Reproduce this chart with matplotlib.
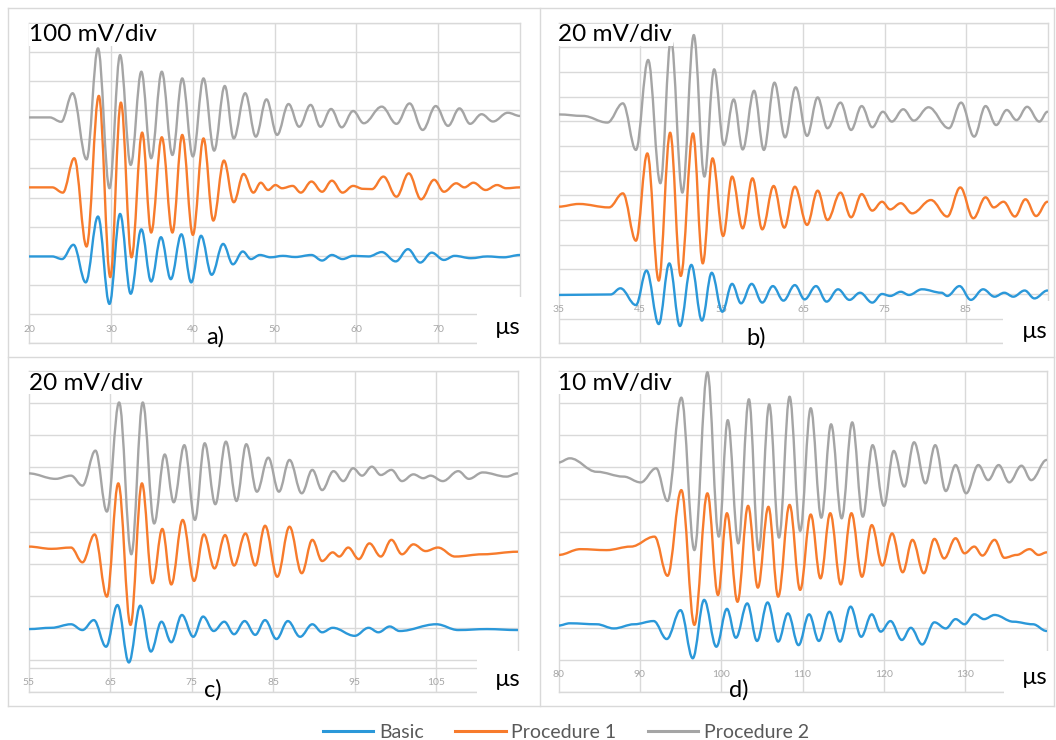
import matplotlib
matplotlib.use("Agg")
import matplotlib.pyplot as plt
from matplotlib.path import Path
from matplotlib.patches import PathPatch, Rectangle
from matplotlib.lines import Line2D

plt.rcParams['font.family'] = ['Lato', 'DejaVu Sans']

# ---------------- data (time in µs, amplitude in grid divisions) ----------------
SERIES = ["Basic", "Procedure 1", "Procedure 2"]
COLORS = ["#2b98d9", "#f77b2c", "#a5a5a5"]

SCALES = ["100 mV/div", "20 mV/div", "20 mV/div", "10 mV/div"]
PANEL_LABELS = ["a)", "b)", "c)", "d)"]

A_XTICKS = [20, 30, 40, 50, 60, 70]
B_XTICKS = [35, 45, 55, 65, 75, 85]
C_XTICKS = [55, 65, 75, 85, 95, 105]
D_XTICKS = [80, 90, 100, 110, 120, 130]

# panel a)
A_P2_T = [20.0, 22.5, 23.9, 25.3, 27.0, 28.4, 29.8, 31.1, 32.4, 33.7, 34.9, 36.2, 37.5, 38.7, 40.0, 41.3,
          42.6, 43.9, 45.0, 46.4, 47.7, 49.0, 50.3, 51.7, 53.0, 54.4, 55.6, 56.9, 58.2, 59.6, 60.9, 63.1,
          64.9, 66.5, 68.1, 69.7, 71.2, 72.6, 73.9, 75.3, 76.7, 78.5, 80.0]
A_P2_V = [7.75, 7.75, 7.6, 8.58, 6.31, 10.12, 5.32, 9.89, 6.12, 9.32, 6.35, 9.32, 6.46, 9.09, 6.41, 9.09,
          6.61, 8.83, 7.03, 8.58, 7.09, 8.37, 7.15, 8.21, 7.43, 8.18, 7.43, 8.04, 7.41, 7.97, 7.55, 8.12,
          7.53, 8.23, 7.32, 8.14, 7.46, 8.06, 7.53, 7.86, 7.61, 7.91, 7.8]
A_P1_T = [20.0, 22.8, 24.1, 25.5, 27.0, 28.5, 29.9, 31.2, 32.5, 33.8, 34.9, 36.2, 37.5, 38.7, 40.0, 41.3,
          42.5, 43.8, 45.0, 46.2, 47.4, 48.3, 49.2, 50.1, 50.9, 52.2, 53.2, 54.5, 55.8, 57.0, 58.3, 59.6,
          60.8, 61.9, 63.3, 64.9, 66.4, 67.9, 69.5, 70.7, 72.2, 73.2, 74.3, 75.8, 77.2, 78.3, 80.0]
A_P1_V = [5.35, 5.35, 5.17, 6.35, 3.32, 8.49, 2.27, 8.26, 2.95, 7.23, 3.8, 7.07, 3.8, 7.15, 3.72, 7.03,
          4.21, 6.27, 4.84, 5.81, 5.17, 5.51, 5.26, 5.43, 5.32, 5.4, 5.17, 5.55, 5.2, 5.58, 5.17, 5.4,
          5.3, 5.29, 5.72, 5.03, 5.83, 4.94, 5.61, 5.2, 5.49, 5.35, 5.51, 5.26, 5.43, 5.32, 5.35]
A_B_T = [20.0, 22.8, 24.0, 25.4, 26.9, 28.4, 29.8, 31.1, 32.4, 33.7, 34.9, 36.1, 37.3, 38.6, 39.8, 41.0,
         42.3, 43.7, 44.9, 46.1, 47.1, 48.2, 49.5, 51.0, 52.5, 54.5, 55.8, 57.0, 58.3, 59.6, 61.5, 63.1,
         64.8, 66.3, 67.8, 69.2, 70.7, 72.0, 74.0, 76.0, 78.0, 80.0]
A_B_V = [2.98, 2.98, 2.89, 3.38, 2.09, 4.35, 1.35, 4.44, 1.70, 3.91, 2.12, 3.64, 2.2, 3.74, 2.09, 3.69,
         2.35, 3.41, 2.71, 3.15, 2.89, 3.03, 2.95, 3.0, 2.96, 3.03, 2.84, 3.03, 2.89, 3.0, 2.98, 3.13,
         2.81, 3.23, 2.77, 3.11, 2.86, 3.0, 2.92, 2.98, 2.95, 3.03]

# panel b)
B_P2_T = [35.0, 38.0, 41.0, 42.9, 44.5, 46.0, 47.5, 48.8, 50.2, 51.6, 52.9, 54.1, 55.3, 56.5, 57.6, 59.0,
          60.2, 61.5, 62.8, 64.1, 65.5, 66.8, 68.0, 69.6, 70.9, 72.2, 73.5, 74.8, 75.9, 77.3, 78.6, 80.4,
          82.9, 84.4, 86.0, 87.4, 88.7, 90.0, 91.2, 92.5, 94.0, 95.0]
B_P2_V = [9.28, 9.22, 8.95, 9.73, 7.84, 11.49, 6.49, 12.32, 6.11, 12.5, 6.76, 11.11, 8.04, 9.89, 7.86, 10.24,
          7.84, 10.57, 8.35, 10.38, 8.41, 9.97, 8.72, 9.76, 8.65, 9.62, 8.76, 9.39, 8.99, 9.49, 9.03, 9.57,
          8.72, 9.76, 8.38, 9.62, 8.85, 9.46, 9.05, 9.59, 8.99, 9.39]
B_P1_T = [35.0, 37.5, 41.2, 42.9, 44.5, 45.9, 47.3, 48.7, 50.0, 51.5, 52.7, 53.9, 55.2, 56.3, 57.6, 58.8,
          60.0, 61.4, 62.7, 64.0, 65.5, 66.8, 68.0, 69.6, 70.9, 72.2, 73.5, 74.7, 75.7, 77.0, 78.4, 80.7,
          82.7, 84.3, 85.9, 87.4, 88.4, 89.6, 91.0, 92.3, 93.6, 95.0]
B_P1_V = [5.54, 5.65, 5.51, 6.08, 4.16, 7.70, 2.54, 8.54, 2.73, 8.51, 3.24, 7.5, 4.35, 6.76, 4.66, 6.69,
          4.62, 6.38, 4.69, 6.35, 4.8, 6.19, 5.0, 6.11, 5.11, 6.05, 5.38, 5.74, 5.43, 5.68, 5.27, 5.81,
          5.14, 6.32, 5.07, 5.92, 5.51, 5.74, 5.14, 5.84, 5.16, 5.74]
B_B_T = [35.0, 41.4, 42.6, 44.5, 45.8, 47.3, 48.6, 49.9, 51.3, 52.6, 53.8, 55.1, 56.3, 57.4, 58.7, 60.0,
         61.3, 62.6, 64.0, 65.2, 66.6, 67.9, 69.3, 70.7, 72.0, 73.5, 74.7, 75.7, 77.0, 78.0, 79.6, 82.0,
         82.7, 84.2, 85.6, 87.1, 88.5, 89.7, 90.8, 92.2, 93.4, 95.0]
B_B_V = [1.96, 1.98, 2.23, 1.55, 2.95, 0.78, 3.24, 0.70, 3.18, 0.92, 2.86, 1.28, 2.41, 1.62, 2.41, 1.65,
         2.32, 1.73, 2.36, 1.78, 2.32, 1.69, 2.19, 1.76, 2.05, 1.65, 2.0, 1.92, 2.09, 1.96, 2.19, 2.05,
         1.92, 2.32, 1.76, 2.19, 1.89, 2.05, 1.89, 2.14, 1.82, 2.14]

# panel c)
C_P2_T = [55.0, 58.3, 60.2, 61.6, 63.2, 64.6, 66.1, 67.6, 69.0, 70.4, 71.7, 72.8, 74.1, 75.4, 76.6, 77.9,
          79.2, 80.5, 81.7, 83.0, 84.4, 85.7, 87.0, 88.5, 89.8, 91.0, 92.4, 93.6, 94.8, 95.9, 97.1, 98.2,
          99.5, 100.8, 102.2, 103.4, 104.3, 105.8, 107.7, 109.0, 110.7, 113.6, 115.0]
C_P2_V = [6.81, 6.64, 6.74, 6.43, 7.52, 5.62, 9.02, 4.29, 9.02, 5.25, 7.40, 5.91, 7.69, 5.36, 7.75, 5.85,
          7.80, 5.95, 7.72, 6.24, 7.30, 6.24, 7.23, 6.19, 6.92, 6.29, 6.88, 6.57, 6.97, 6.74, 7.02, 6.76,
          6.92, 6.57, 6.78, 6.66, 6.74, 6.57, 6.88, 6.64, 6.84, 6.71, 6.81]
C_P1_T = [55.0, 57.8, 60.2, 61.6, 63.1, 64.6, 66.0, 67.5, 68.9, 70.2, 71.4, 72.5, 73.9, 75.3, 76.5, 77.8,
          79.1, 80.2, 81.6, 82.8, 84.0, 85.5, 87.0, 88.5, 89.8, 91.0, 92.3, 93.1, 94.2, 95.5, 96.8, 98.2,
          99.5, 100.8, 102.2, 103.7, 105.2, 107.3, 110.7, 115.0]
C_P1_V = [4.53, 4.46, 4.50, 4.04, 4.91, 2.97, 6.5, 2.09, 6.5, 3.39, 5.08, 3.35, 5.36, 3.46, 4.91, 3.85,
          4.89, 3.94, 4.94, 3.94, 5.18, 3.59, 5.15, 3.70, 4.74, 4.08, 4.35, 4.22, 4.50, 4.14, 4.63, 4.22,
          4.74, 4.29, 4.60, 4.39, 4.50, 4.22, 4.29, 4.37]
C_B_T = [55.0, 57.8, 60.2, 61.6, 63.0, 64.5, 65.9, 67.3, 68.7, 70.0, 71.3, 72.5, 73.8, 75.2, 76.4, 77.7,
         79.0, 80.2, 81.5, 82.8, 84.0, 85.4, 86.8, 88.3, 89.8, 91.0, 92.3, 95.0, 96.7, 97.9, 99.3, 100.5,
         105.0, 107.7, 111.2, 115.0]
C_B_V = [1.96, 2.0, 2.11, 1.93, 2.24, 1.41, 2.71, 0.92, 2.69, 1.26, 2.19, 1.55, 2.40, 1.72, 2.35, 1.90,
         2.19, 1.80, 2.21, 1.78, 2.24, 1.65, 2.21, 1.72, 2.11, 1.86, 2.0, 1.75, 2.0, 1.86, 2.04, 1.90,
         2.11, 1.93, 1.96, 1.93]

# panel d)
D_P2_T = [80.0, 81.4, 84.7, 88.0, 90.1, 92.0, 93.4, 95.1, 96.7, 98.3, 99.7, 100.8, 102.1, 103.4, 104.6,
          105.9, 107.1, 108.4, 109.7, 111.0, 112.3, 113.5, 114.8, 116.1, 117.4, 118.6, 120.0, 121.2, 122.5,
          123.7, 125.1, 126.3, 127.6, 128.8, 130.1, 131.6, 132.8, 134.1, 135.4, 136.9, 138.1, 140.0]
D_P2_V = [7.15, 7.28, 6.86, 6.71, 6.53, 6.97, 5.95, 9.17, 4.42, 9.96, 4.84, 8.47, 4.63, 9.12, 4.42,
          8.96, 4.81, 9.2, 5.02, 8.84, 5.43, 8.34, 5.41, 8.40, 5.46, 7.69, 5.80, 7.51, 6.40,
          7.78, 6.50, 7.69, 6.26, 7.07, 6.19, 7.07, 6.60, 7.07, 6.53, 7.05, 6.60, 7.23]
D_P1_T = [80.0, 82.7, 85.9, 88.9, 91.8, 93.4, 95.1, 96.7, 98.3, 99.6, 100.7, 102.0, 103.3, 104.5, 105.8,
          107.0, 108.4, 109.7, 111.0, 112.2, 113.4, 114.7, 116.0, 117.3, 118.5, 119.8, 121.0, 122.3, 123.5,
          124.9, 126.2, 127.4, 128.8, 129.9, 131.1, 132.1, 133.6, 134.8, 136.3, 137.9, 139.0, 140.0]
D_P1_V = [4.27, 4.45, 4.42, 4.53, 4.84, 3.62, 6.29, 2.09, 6.19, 3.02, 5.57, 2.81, 5.80, 3.25, 5.77,
          2.97, 5.83, 3.18, 5.53, 3.54, 5.57, 3.35, 5.57, 3.59, 5.20, 3.94, 4.94, 3.73, 4.74,
          3.70, 4.77, 4.16, 4.79, 4.32, 4.53, 4.25, 4.74, 4.18, 4.27, 4.45, 4.27, 4.35]
D_B_T = [80.0, 81.4, 84.7, 86.8, 89.3, 91.7, 93.3, 95.0, 96.5, 97.9, 99.4, 100.7, 101.8, 103.2, 104.4,
         105.7, 107.0, 108.2, 109.5, 110.8, 112.0, 113.3, 114.6, 115.9, 117.2, 118.5, 119.6, 120.8, 122.2,
         123.3, 124.7, 126.2, 127.6, 128.8, 129.9, 131.1, 132.3, 133.6, 135.9, 138.3, 140.0]
D_B_V = [2.07, 2.14, 2.11, 1.98, 2.11, 2.21, 1.65, 2.55, 1.05, 2.87, 1.41, 2.59, 1.69, 2.76, 1.59,
         2.79, 1.57, 2.45, 1.46, 2.42, 1.59, 2.50, 1.57, 2.66, 1.72, 2.42, 1.88, 2.21, 1.62,
         2.0, 1.48, 2.17, 1.98, 2.27, 2.11, 2.42, 2.27, 2.40, 2.19, 2.11, 1.90]

PANELS = [
    dict(xlim=(20, 80), ndiv=11, xticks=A_XTICKS, vgrid=[30, 40, 50, 60, 70], lab_y=0.49, axis_y=None,
         data=[(A_B_T, A_B_V), (A_P1_T, A_P1_V), (A_P2_T, A_P2_V)]),
    dict(xlim=(35, 95), ndiv=13, xticks=B_XTICKS, vgrid=[45, 55, 65, 75, 85], lab_y=1.39, axis_y=None,
         data=[(B_B_T, B_B_V), (B_P1_T, B_P1_V), (B_P2_T, B_P2_V)]),
    dict(xlim=(55, 115), ndiv=10, xticks=C_XTICKS, vgrid=[65, 75, 85, 95, 105], lab_y=0.29, axis_y=0.75,
         data=[(C_B_T, C_B_V), (C_P1_T, C_P1_V), (C_P2_T, C_P2_V)]),
    dict(xlim=(80, 140), ndiv=10, xticks=D_XTICKS, vgrid=[90, 100, 110, 120, 130], lab_y=0.53, axis_y=None,
         data=[(D_B_T, D_B_V), (D_P1_T, D_P1_V), (D_P2_T, D_P2_V)]),
]

# ---------------- layout (pixels) ----------------
W, H = 1056, 740
fig = plt.figure(figsize=(W / 100, H / 100), dpi=100)
fig.patch.set_facecolor("white")

def fx(x):
    return x / W

def fy(y):
    return 1 - y / H

AX_BOX = [(29.3, 22.7, 520.0, 343.3), (558.5, 22.7, 1047.5, 343.3),
          (28.6, 371.0, 517.8, 692.0), (558.5, 371.0, 1046.7, 692.0)]
MASK_BOX = [(477, 297, 536, 354), (1003, 301, 1053, 354),
            (477, 651, 536, 703), (1004, 651, 1053, 703)]
UNIT_POS = [(508, 327), (1035, 331), (508, 680), (1035, 677)]
LETTER_POS = [(215, 337), (756, 338), (213, 690), (739, 690)]
GRID = "#d9d9d9"


def wave_path(t, v, k=0.37):
    verts = [(t[0], v[0])]
    codes = [Path.MOVETO]
    for i in range(1, len(t)):
        d = t[i] - t[i - 1]
        verts += [(t[i - 1] + k * d, v[i - 1]), (t[i] - k * d, v[i]), (t[i], v[i])]
        codes += [Path.CURVE4] * 3
    return Path(verts, codes)


for p, box, scale in zip(PANELS, AX_BOX, SCALES):
    x0, y0, x1, y1 = box
    ax = fig.add_axes([fx(x0), fy(y1), fx(x1) - fx(x0), fy(y0) - fy(y1)])
    ax.set_xlim(*p["xlim"])
    ax.set_ylim(0, p["ndiv"])
    for s in ax.spines.values():
        s.set_color(GRID)
        s.set_linewidth(1.0)
    ax.set_xticks(p["vgrid"])
    ax.set_yticks(range(p["ndiv"] + 1))
    ax.grid(True, color=GRID, linewidth=1.0)
    ax.tick_params(length=0, labelbottom=False, labelleft=False)
    if p["axis_y"] is not None:
        ax.axhline(p["axis_y"], color=GRID, lw=1.0)
    for xt in p["xticks"]:
        ax.text(xt, p["lab_y"], str(xt), ha="center", va="center", fontsize=7.5, color="#a6a6a6")
    for (t, v), c in zip(p["data"], COLORS):
        ax.add_patch(PathPatch(wave_path(t, v), fill=False, edgecolor=c, lw=1.7,
                               capstyle="round", joinstyle="round", zorder=3))
    ax.text(0.0, 1.0 - 0.3 / p["ndiv"] * 0 - 0.005, scale, transform=ax.transAxes, ha="left", va="top",
            fontsize=17.5, color="black", zorder=5,
            bbox=dict(facecolor="white", edgecolor="none", pad=0.5))

for (mx0, my0, mx1, my1), (ux, uy), (lx, ly), lab in zip(MASK_BOX, UNIT_POS, LETTER_POS, PANEL_LABELS):
    fig.add_artist(Rectangle((fx(mx0), fy(my1)), fx(mx1) - fx(mx0), fy(my0) - fy(my1),
                             transform=fig.transFigure, facecolor="white", edgecolor="none", zorder=1.5))
    fig.text(fx(ux), fy(uy), "µs", ha="center", va="center", fontsize=17, zorder=4)
    fig.text(fx(lx), fy(ly), lab, ha="center", va="center", fontsize=17, zorder=4)

# frames
for (xa, ya, xb, yb) in [(8, 8, 1054, 8), (8, 706, 1054, 706), (8, 8, 8, 706), (1054, 8, 1054, 706),
                         (540, 8, 540, 706), (8, 357, 1054, 357)]:
    fig.add_artist(Line2D([fx(xa), fx(xb)], [fy(ya), fy(yb)], transform=fig.transFigure,
                          color=GRID, lw=1.0, zorder=2))

handles = [Line2D([], [], color=c, lw=2.2) for c in COLORS]
fig.legend(handles, SERIES, loc="center", bbox_to_anchor=(fx(566), fy(732)), ncol=3, frameon=False,
           fontsize=14, labelcolor="#595959", handlelength=2.6, handletextpad=0.3, columnspacing=1.6)

fig.savefig("out.png", dpi=100, facecolor="white")
